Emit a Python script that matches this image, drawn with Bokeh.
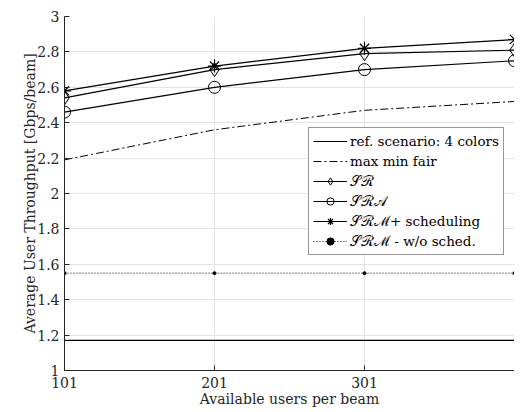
from bokeh.plotting import figure
from bokeh.models import Legend, LegendItem, FixedTicker
from bokeh.embed import file_html
from bokeh.resources import INLINE

users = [101, 201, 301, 401]
ref_4colors = [1.17, 1.17, 1.17, 1.17]
max_min_fair = [2.19, 2.36, 2.47, 2.52]
sr = [2.54, 2.70, 2.79, 2.81]
sra = [2.46, 2.60, 2.70, 2.75]
srm_sched = [2.58, 2.72, 2.82, 2.87]
srm_nosched = [1.55, 1.55, 1.55, 1.55]

x_ticks = [101, 201, 301]
y_ticks = [1, 1.2, 1.4, 1.6, 1.8, 2, 2.2, 2.4, 2.6, 2.8, 3]

FONT = "DejaVu Serif"
AX = "#262626"

p = figure(width=514, height=410, output_backend="svg", toolbar_location=None,
           x_range=(101, 401), y_range=(1, 3),
           min_border_left=64, min_border_right=0, min_border_top=16, min_border_bottom=40)
p.outline_line_color = None
p.background_fill_color = "white"

for ax in (p.xaxis, p.yaxis):
    ax.major_tick_in = 5
    ax.major_tick_out = 0
    ax.minor_tick_in = 0
    ax.minor_tick_out = 0
    ax.axis_line_color = AX
    ax.major_tick_line_color = AX
    ax.major_label_text_font = FONT
    ax.major_label_text_font_size = "14px"
    ax.major_label_text_color = AX
    ax.axis_label_text_font = FONT
    ax.axis_label_text_font_size = "14px"
    ax.axis_label_text_font_style = "normal"
    ax.axis_label_text_color = AX

p.xaxis.ticker = FixedTicker(ticks=x_ticks)
p.yaxis.ticker = FixedTicker(ticks=y_ticks)
p.xaxis.major_label_overrides = {t: str(t) for t in x_ticks}
p.yaxis.major_label_overrides = {1: "1", 2: "2", 3: "3"}
p.xaxis.axis_label = "Available users per beam"
p.yaxis.axis_label = "Average User Throughput [Gbps/beam]"
p.xaxis.axis_label_standoff = 0
p.yaxis.axis_label_standoff = -4
p.xaxis.major_label_standoff = 6

p.xgrid.ticker = FixedTicker(ticks=x_ticks)
p.ygrid.ticker = FixedTicker(ticks=y_ticks)
for g in (p.xgrid, p.ygrid):
    g.grid_line_color = "#e3e3e3"
    g.grid_line_width = 1

lw = 1.2
r_ref = p.line(users, ref_4colors, line_color="black", line_width=lw)
r_mmf = p.line(users, max_min_fair, line_color="black", line_width=1, line_dash="8 3 2 3")
r_sr_l = p.line(users, sr, line_color="black", line_width=lw)
r_sr_m = p.scatter(users, sr, marker="diamond", size=14, fill_color=None, line_color="black", line_width=1)
r_sra_l = p.line(users, sra, line_color="black", line_width=lw)
r_sra_m = p.scatter(users, sra, marker="circle", size=12, fill_color=None, line_color="black", line_width=1)
r_srm_l = p.line(users, srm_sched, line_color="black", line_width=lw)
r_srm_m = p.scatter(users, srm_sched, marker="asterisk", size=13, line_color="black", line_width=1.2)
r_ns_l = p.line(users, srm_nosched, line_color="black", line_width=1, line_dash="1 2")
r_ns_m = p.scatter(users, srm_nosched, marker="circle", size=3, fill_color="black", line_color="black")

items = [
    LegendItem(label="ref. scenario: 4 colors", renderers=[r_ref]),
    LegendItem(label="max min fair", renderers=[r_mmf]),
    LegendItem(label="𝒮ℛ", renderers=[r_sr_l, r_sr_m]),
    LegendItem(label="𝒮ℛ𝒜", renderers=[r_sra_l, r_sra_m]),
    LegendItem(label="𝒮ℛℳ+ scheduling", renderers=[r_srm_l, r_srm_m]),
    LegendItem(label="𝒮ℛℳ - w/o sched.", renderers=[r_ns_l, r_ns_m]),
]
legend = Legend(items=items, location=(244, 115))
legend.label_text_font = FONT
legend.label_text_font_size = "13.5px"
legend.label_text_color = "black"
legend.border_line_color = "#333333"
legend.border_line_width = 1
legend.background_fill_color = "white"
legend.background_fill_alpha = 1
legend.glyph_width = 34
legend.glyph_height = 18
legend.label_height = 18
legend.spacing = 2
legend.padding = 4
legend.margin = 0
legend.label_standoff = 3
p.add_layout(legend, "center")

open("out.html", "w").write(file_html(p, INLINE))
